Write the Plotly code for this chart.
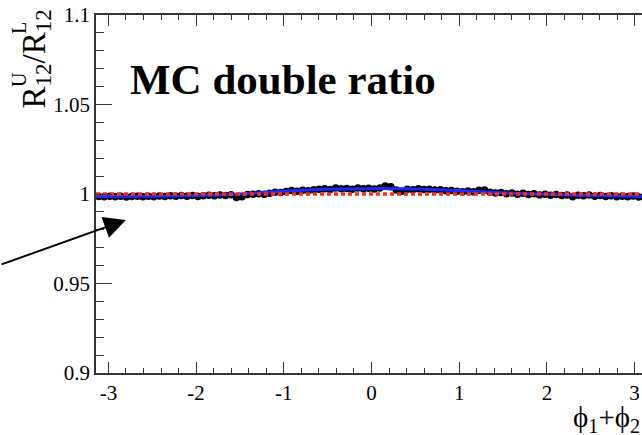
import math
import plotly.graph_objects as go

# Bin centres in phi1+phi2 (100 uniform bins over [-pi, pi])
n_bins = 100
phi_sum = [-math.pi + (i + 0.5) * 2 * math.pi / n_bins for i in range(n_bins)]

# MC double ratio R12^U / R12^L per bin
double_ratio = [
    0.9986, 0.9985, 0.9988, 0.9984, 0.9987, 0.9983, 0.9986, 0.9988, 0.9984, 0.9987,
    0.9985, 0.9989, 0.9986, 0.9990, 0.9987, 0.9991, 0.9988, 0.9992, 0.9986, 0.9990,
    0.9993, 0.9990, 0.9995, 0.9992, 0.9996, 0.9981, 0.9984, 0.9997, 0.9999, 1.0001,
    0.9998, 1.0004, 1.0010, 1.0008, 1.0014, 1.0019, 1.0016, 1.0021, 1.0018, 1.0024,
    1.0027, 1.0030, 1.0025, 1.0033, 1.0029, 1.0031, 1.0027, 1.0034, 1.0030, 1.0032,
    1.0028, 1.0033, 1.0044, 1.0040, 1.0022, 1.0016, 1.0027, 1.0024, 1.0029, 1.0025,
    1.0026, 1.0022, 1.0024, 1.0018, 1.0020, 1.0015, 1.0012, 1.0017, 1.0013, 1.0021,
    1.0023, 1.0010, 1.0005, 1.0008, 1.0002, 1.0006, 0.9999, 1.0004, 0.9997, 1.0001,
    0.9994, 0.9998, 0.9993, 0.9997, 0.9991, 0.9995, 0.9985, 0.9993, 0.9990, 0.9994,
    0.9988, 0.9991, 0.9986, 0.9990, 0.9984, 0.9988, 0.9985, 0.9989, 0.9983, 0.9982,
]

# Fitted curve sampled at nodes
fit_x = [-3.1416, -2.5, -2.0, -1.5, -1.0, -0.5, 0.0, 0.5, 1.0, 1.5, 2.0, 2.5, 3.1416]
fit_y = [0.9986, 0.9987, 0.9991, 1.0000, 1.0015, 1.0026, 1.0030, 1.0028, 1.0019,
         1.0007, 0.9998, 0.9991, 0.9985]

# Reference level (no asymmetry)
ref_x = [-3.1416, 3.1416]
ref_y = [1.0, 1.0]

y_ticks = [0.9, 0.95, 1.0, 1.05, 1.1]
y_tick_text = ["0.9", "0.95", "1", "1.05", "1.1"]
x_ticks = [-3, -2, -1, 0, 1, 2, 3]
x_tick_text = ["-3", "-2", "-1", "0", "1", "2", "3"]

SERIF = "Liberation Serif"
AXIS_COL = "#333333"

# Frame geometry (pixels)
W, H = 642, 435
L, T, B = 96, 15, 62
PW, PH = W - L, H - T - B
X_PER_UNIT = 87.7
x_right = -math.pi + PW / X_PER_UNIT


def px(xp):
    return (xp - L) / PW


def py(yp):
    return (H - B - yp) / PH


fig = go.Figure()
fig.add_trace(go.Scatter(
    x=phi_sum, y=double_ratio, mode="markers",
    marker=dict(color="black", size=7.5), showlegend=False,
))
fig.add_trace(go.Scatter(
    x=fit_x, y=fit_y, mode="lines", line=dict(color="#1a2bff", width=3, shape="spline"),
    showlegend=False,
))
fig.add_trace(go.Scatter(
    x=ref_x, y=ref_y, mode="lines",
    line=dict(color="#ff2a1a", width=3.5, dash="4px,3px"), showlegend=False,
))

tick_font = dict(family=SERIF, size=21, color="black")

fig.update_layout(
    width=W, height=H,
    margin=dict(l=L, r=0, t=T, b=B),
    paper_bgcolor="white", plot_bgcolor="white",
    font=dict(family=SERIF, color="black"),
    xaxis=dict(
        range=[-math.pi, x_right], tickvals=x_ticks, ticktext=x_tick_text,
        showgrid=False, zeroline=False, showline=True, linecolor=AXIS_COL, linewidth=1.5,
        ticks="inside", tickcolor=AXIS_COL, tickwidth=1.2, mirror="allticks",
        ticklen=11, ticklabelstandoff=0, tickfont=tick_font,
        minor=dict(dtick=0.2, ticklen=5, ticks="inside", tickcolor=AXIS_COL, tickwidth=1.2,
                   showgrid=False),
    ),
    yaxis=dict(
        range=[0.9, 1.1], tickvals=y_ticks, ticktext=y_tick_text,
        showgrid=False, zeroline=False, showline=True, linecolor=AXIS_COL, linewidth=1.5,
        ticks="inside", tickcolor=AXIS_COL, tickwidth=1.2, mirror=False,
        ticklen=16, ticklabelstandoff=0, tickfont=tick_font,
        minor=dict(dtick=0.01, tick0=0.9, ticklen=8, ticks="inside", tickcolor=AXIS_COL,
                   tickwidth=1.2, showgrid=False),
    ),
)

# Plot label
fig.add_annotation(
    text="<b>MC double ratio</b>", xref="paper", yref="paper",
    x=px(128), y=py(79), xanchor="left", yanchor="middle",
    showarrow=False, font=dict(family=SERIF, size=43, color="black"),
)

# y-axis title: R_12^U / R_12^L, rotated
title_font = dict(family=SERIF, size=33, color="black")
sup_font = dict(family=SERIF, size=20, color="black")
fig.add_annotation(
    text="R<sub>12</sub>/R<sub>12</sub>", xref="paper", yref="paper",
    x=px(36), y=py(8), xanchor="center", yanchor="top",
    textangle=-90, showarrow=False, font=title_font,
)
fig.add_annotation(
    text="U", xref="paper", yref="paper",
    x=px(19), y=py(80), xanchor="center", yanchor="middle",
    textangle=-90, showarrow=False, font=sup_font,
)
fig.add_annotation(
    text="L", xref="paper", yref="paper",
    x=px(19), y=py(28), xanchor="center", yanchor="middle",
    textangle=-90, showarrow=False, font=sup_font,
)

# x-axis title (runs past the right edge)
fig.add_annotation(
    text="\u03d5<sub>1</sub>+\u03d5<sub>2</sub>", xref="paper", yref="paper",
    x=px(571), y=py(419), xanchor="left", yanchor="middle",
    showarrow=False, font=dict(family=SERIF, size=29, color="black"),
)

# Arrow pointing at the curve region
fig.add_annotation(
    x=-2.8, y=0.9855, xref="x", yref="y", ax=-126, ay=45, axref="pixel", ayref="pixel",
    showarrow=True, arrowhead=2, arrowsize=2.2, arrowwidth=2, arrowcolor="black", text="",
)

fig.write_html("out.html")
